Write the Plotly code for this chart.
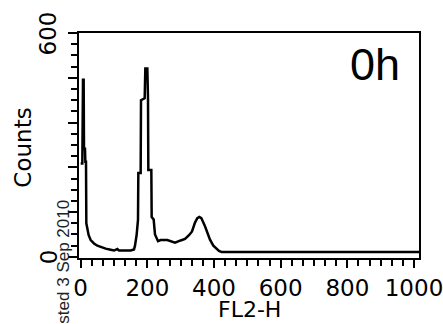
import plotly.graph_objects as go

# Histogram (channel, counts)
channels = [0, 5, 7, 9, 10, 13, 14, 16, 17, 20, 24, 30, 40, 50, 60, 75, 90, 100, 110, 115, 130, 150, 160,
            163, 168, 172, 173, 180, 181, 192, 194, 200, 202, 203, 212, 213, 219, 223, 232, 240, 260, 275,
            283, 300, 313, 325, 334, 343, 350, 356, 362, 373, 380, 388, 398, 408, 415, 423, 1020]
counts = [250, 250, 475, 475, 290, 290, 255, 255, 90, 72, 58, 45, 36, 30, 26, 22, 19, 17, 21, 17, 17, 17, 20,
          30, 60, 100, 225, 225, 420, 425, 505, 505, 425, 233, 233, 107, 100, 60, 42, 45, 45, 40,
          38, 44, 48, 58, 68, 92, 104, 107, 104, 82, 65, 46, 30, 20, 16, 13, 13]

x_ticks = [0, 200, 400, 600, 800, 1000]
y_ticks = [0, 120, 240, 360, 480, 600]
y_labels = {0: "0", 600: "600"}

fig = go.Figure()
fig.add_trace(go.Scatter(x=channels, y=counts, mode="lines",
                         line=dict(color="black", width=2.5), hoverinfo="skip"))

font23 = dict(family="DejaVu Sans", size=23, color="black")

annotations = [
    dict(text="FL2-H", xref="paper", yref="paper", x=0.5, y=-0.166, xanchor="center", yanchor="top",
         showarrow=False, font=dict(family="DejaVu Sans", size=22, color="black")),
    dict(text="Counts", xref="paper", yref="paper", x=-0.165, y=0.49, xanchor="center", yanchor="middle",
         textangle=-90, showarrow=False, font=font23),
    dict(text="0h", xref="paper", yref="paper", x=0.87, y=0.86, xanchor="center", yanchor="middle",
         showarrow=False, font=dict(family="Liberation Sans", size=45, color="black")),
    dict(text="Posted 3 Sep 2010", xref="paper", yref="paper", x=-0.045, y=0.27, xanchor="center", yanchor="top",
         textangle=-90, showarrow=False, font=dict(family="Liberation Sans", size=17, color="#222")),
]
for v, t in y_labels.items():
    annotations.append(dict(text=t, xref="paper", yref="y", x=-0.09, y=v, xanchor="center", yanchor="middle",
                            textangle=-90, showarrow=False, font=font23))

fig.update_layout(
    width=443, height=324,
    margin=dict(l=79, r=24, t=33, b=66, autoexpand=False),
    paper_bgcolor="white", plot_bgcolor="white",
    showlegend=False,
    xaxis=dict(range=[-5, 1015], tickvals=x_ticks, ticktext=[str(v) for v in x_ticks],
               automargin=False, ticklabeloverflow="allow",
               showgrid=False, zeroline=False, showline=True, mirror=True,
               linecolor="black", linewidth=2, ticks="outside", ticklen=8, tickwidth=2,
               tickcolor="black", tickfont=font23,
               minor=dict(dtick=200 / 6, ticklen=6, tickwidth=2, tickcolor="black", ticks="outside", showgrid=False)),
    yaxis=dict(range=[-3, 600], tickvals=y_ticks, showticklabels=False,
               automargin=False,
               showgrid=False, zeroline=False, showline=True, mirror=True,
               linecolor="black", linewidth=2, ticks="outside", ticklen=9, tickwidth=2,
               tickcolor="black",
               minor=dict(dtick=30, ticklen=6, tickwidth=2, tickcolor="black", ticks="outside", showgrid=False)),
    annotations=annotations,
)

fig.write_html("out.html", config={"displayModeBar": False},
               post_script="document.body.style.margin='0';document.body.style.padding='0';")
